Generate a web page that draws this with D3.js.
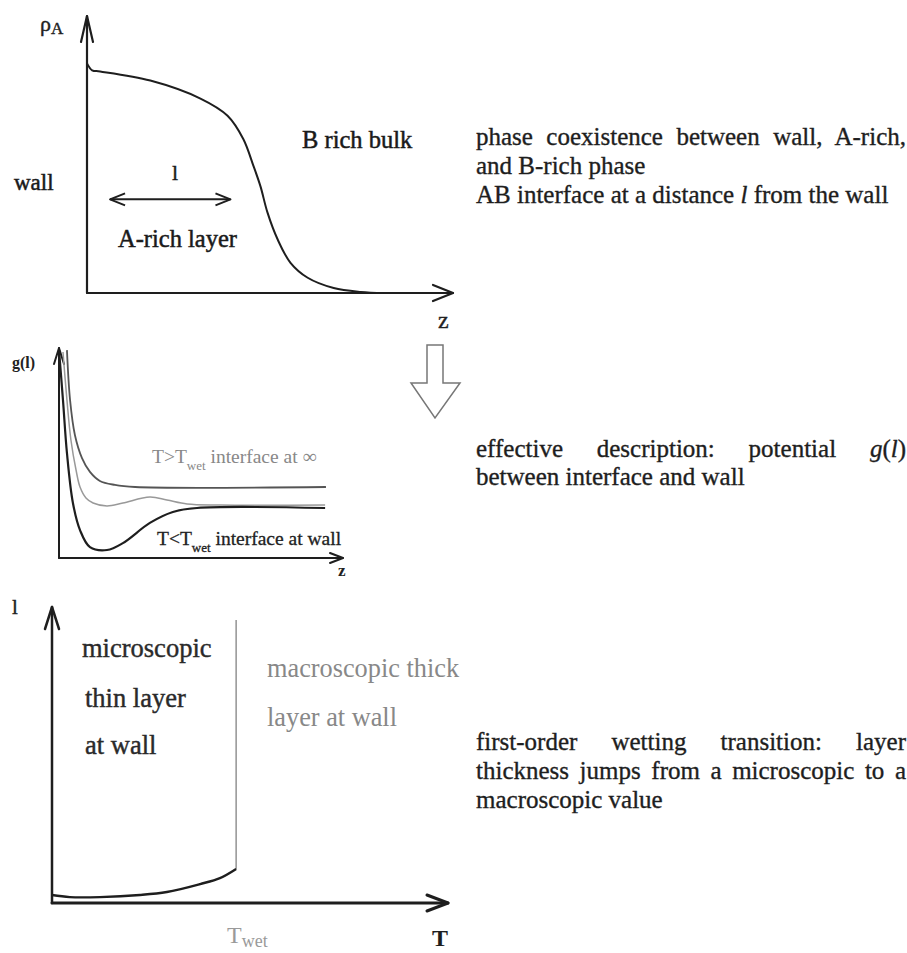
<!DOCTYPE html>
<html><head><meta charset="utf-8">
<script src="https://cdn.jsdelivr.net/npm/d3@7"></script>
<style>body{margin:0;background:#fff}svg{display:block}</style>
</head><body><svg id="c" width="907" height="953"></svg>
<script>
// ---------- DATA ----------
// Panel 1: density profile rho_A(z)
const profileZ   = [0, 0.14, 0.36, 1.73, 3.10, 3.84, 4.27, 4.55, 4.74, 4.93, 5.21, 5.56, 6.03, 6.74, 7.48, 8.11];
const profileRho = [8.29, 8.04, 8.00, 7.67, 7.02, 6.40, 5.56, 4.58, 3.85, 2.91, 1.93, 1.09, 0.55, 0.18, 0.04, 0.00];
// Panel 2: effective potentials g(l)
const gAboveX = [0.28, 0.39, 0.56, 0.81, 1.09, 1.44, 1.97, 2.68, 9.40];
const gAboveY = [9.90, 7.52, 5.86, 4.76, 4.10, 3.67, 3.48, 3.38, 3.38];
const gWetX   = [0.14, 0.28, 0.42, 0.60, 0.74, 0.95, 1.20, 1.69, 2.25, 3.20, 3.80, 4.51, 5.67, 9.37];
const gWetY   = [9.81, 7.52, 5.62, 4.19, 3.38, 2.86, 2.62, 2.48, 2.62, 2.90, 2.76, 2.57, 2.52, 2.52];
const gBelowX = [0.00, 0.14, 0.28, 0.49, 0.74, 1.09, 1.69, 2.25, 3.20, 4.01, 4.86, 9.37];
const gBelowY = [9.90, 7.52, 5.00, 2.62, 1.33, 0.52, 0.38, 0.71, 1.67, 2.19, 2.38, 2.38];
// Panel 3: layer thickness l(T)
const thickT = [0, 0.45, 1.21, 2.22, 2.90, 3.74, 4.24, 4.65];
const thickL = [0.27, 0.20, 0.20, 0.27, 0.37, 0.64, 0.84, 1.15];
const Twet = 4.65, jumpTop = 9.56;
// Text
const topText = ["phase coexistence between wall, A-rich,", "and B-rich phase", "AB interface at a distance "];
const midText = ["effective description: potential ", "between interface and wall"];
const botText = ["first-order wetting transition: layer", "thickness jumps from a microscopic to a", "macroscopic value"];

// ---------- DRAW ----------
const svg = d3.select("#c");
svg.append("rect").attr("width",907).attr("height",953).attr("fill","#fff");
const SERIF = "'Liberation Serif','Times New Roman',serif";
const zip = (a,b)=>a.map((v,i)=>[v,b[i]]);
const smooth = d3.curveCatmullRom.alpha(0.5);

function axes(x, y, o){
  const g = svg.append("g").attr("stroke", "#1e1e1e").attr("fill","none").attr("stroke-linecap","round").attr("stroke-linejoin","round");
  const x0 = x(0), y0 = y(0), xe = x(10), ye = y(10);
  g.append("path").attr("stroke-width", o.wy).attr("d", `M${x0},${y0}V${ye}`);
  g.append("path").attr("stroke-width", o.wx).attr("d", `M${x0},${y0}H${xe}`);
  g.append("path").attr("stroke-width", o.wy).attr("d", `M${x0-o.vw},${ye+o.vl}L${x0},${ye}L${x0+o.vw},${ye+o.vl}`);
  g.append("path").attr("stroke-width", o.wx).attr("d", `M${xe-o.hl},${y0-o.hw}L${xe},${y0}L${xe-o.hl},${y0+o.hw}`);
}
function label(x, y, txt, size, fill, opts={}){
  const t = svg.append("text").attr("x",x).attr("y",y).attr("font-family",SERIF)
    .attr("font-size",size).attr("fill",fill).text(txt);
  if (opts.weight) t.attr("font-weight",opts.weight);
  if (opts.style) t.attr("font-style",opts.style);
  if (opts.heavy) t.attr("stroke",fill).attr("stroke-width",opts.heavy);
  return t;
}

// Panel 1
const x1 = d3.scaleLinear().domain([0,10]).range([87,453]);
const y1 = d3.scaleLinear().domain([0,10]).range([293,16]);
axes(x1, y1, {wx:2.2, wy:2.2, vw:6, vl:26, hl:20, hw:8});
svg.append("path").datum(zip(profileZ, profileRho))
  .attr("fill","none").attr("stroke","#1e1e1e").attr("stroke-width",2)
  .attr("d", d3.line().x(d=>x1(d[0])).y(d=>y1(d[1])).curve(smooth));
// rho_A label
const rl = label(40, 31, "ρ", 22, "#222", {heavy:0.4});
rl.append("tspan").attr("font-size",17).attr("dy",3).text("A");
label(438, 328, "z", 24, "#222", {heavy:0.4});
label(14, 190, "wall", 23, "#1a1a1a", {heavy:0.5});
label(302, 148, "B rich bulk", 24.5, "#1a1a1a", {heavy:0.5});
label(118, 247, "A-rich layer", 24.5, "#1a1a1a", {heavy:0.5});
label(172, 180, "l", 22, "#1a1a1a", {heavy:0.4});
// double arrow for layer thickness l
{
  const ax0 = x1(0.63), ax1 = x1(3.92), ay = y1(3.38);
  const g = svg.append("g").attr("stroke","#1e1e1e").attr("stroke-width",2).attr("fill","none").attr("stroke-linejoin","round");
  g.append("path").attr("d",`M${ax0},${ay}H${ax1}`);
  g.append("path").attr("d",`M${ax0+15},${ay-6}L${ax0},${ay}L${ax0+15},${ay+6}`);
  g.append("path").attr("d",`M${ax1-15},${ay-6}L${ax1},${ay}L${ax1-15},${ay+6}`);
}

// Panel 2
const x2 = d3.scaleLinear().domain([0,10]).range([59,343]);
const y2 = d3.scaleLinear().domain([0,10]).range([558,348]);
axes(x2, y2, {wx:2, wy:2, vw:5, vl:16, hl:13, hw:5});
const line2 = d3.line().x(d=>x2(d[0])).y(d=>y2(d[1])).curve(smooth);
[[gAboveX,gAboveY,"#555",1.8],[gWetX,gWetY,"#999",1.5],[gBelowX,gBelowY,"#1e1e1e",2.2]].forEach(([a,b,c,w])=>{
  svg.append("path").datum(zip(a,b)).attr("fill","none").attr("stroke",c).attr("stroke-width",w).attr("d",line2);
});
{
  label(12, 368, "g(l)", 16, "#222", {weight:"bold"});
  label(338, 576, "z", 17, "#222", {weight:"bold"});
  const a = label(152, 463, "T>T", 19.5, "#888");
  a.append("tspan").attr("font-size",13).attr("dy",7).text("wet");
  a.append("tspan").attr("dy",-7).text(" interface at ∞");
  const b = label(157, 545, "T<T", 19.5, "#222", {heavy:0.3});
  b.append("tspan").attr("font-size",13).attr("dy",7).text("wet");
  b.append("tspan").attr("dy",-7).text(" interface at wall");
}
// hollow down arrow
svg.append("path").attr("fill","#fff").attr("stroke","#777").attr("stroke-width",1.5).attr("stroke-linejoin","miter")
  .attr("d","M427,345H443V383H460L435,418L411,383H427Z");

// Panel 3
const x3 = d3.scaleLinear().domain([0,10]).range([52,448]);
const y3 = d3.scaleLinear().domain([0,10]).range([903,607]);
axes(x3, y3, {wx:3, wy:2.5, vw:7, vl:22, hl:21, hw:8});
svg.append("line").attr("x1",x3(Twet)).attr("x2",x3(Twet)).attr("y1",y3(1.15)).attr("y2",y3(jumpTop))
  .attr("stroke","#999").attr("stroke-width",1.6);
svg.append("path").datum(zip(thickT, thickL)).attr("fill","none").attr("stroke","#1e1e1e").attr("stroke-width",2.4)
  .attr("d", d3.line().x(d=>x3(d[0])).y(d=>y3(d[1])).curve(smooth));
label(12, 614, "l", 21, "#222", {heavy:0.4});
label(82, 657, "microscopic", 26.5, "#2a2a2a", {heavy:0.4});
label(85, 707, "thin layer", 26.5, "#2a2a2a", {heavy:0.4});
label(85, 754, "at wall", 26.5, "#2a2a2a", {heavy:0.4});
label(267, 677, "macroscopic thick", 26.3, "#888");
label(267, 726, "layer at wall", 26.3, "#888");
{
  const t = label(227, 943, "T", 24, "#9a9a9a");
  t.append("tspan").attr("font-size",18).attr("dy",4).text("wet");
  label(432, 946, "T", 24, "#1e1e1e", {weight:"bold"});
}

// Right-hand descriptions
const LX = 476, RX = 906, FS = 25;
function para(lines, y0, lh, justify, extra){
  lines.forEach((s,i)=>{
    const t = label(LX, y0+i*lh, s, FS, "#1e1e1e", {heavy:0.35});
    if (extra && extra[i]) extra[i](t);
    if (justify[i]) {
      const w = t.node().getComputedTextLength();
      const n = (t.text().match(/ /g)||[]).length;
      if (n>0) t.style("word-spacing", ((RX-LX)-w)/n + "px");
    }
  });
}
para(topText, 145, 29, [true,false,false], {2: t=>{
  t.append("tspan").attr("font-style","italic").text("l");
  t.append("tspan").text(" from the wall");
}});
para(midText, 457, 28, [true,false], {0: t=>{
  t.append("tspan").attr("font-style","italic").text("g");
  t.append("tspan").text("(");
  t.append("tspan").attr("font-style","italic").text("l");
  t.append("tspan").text(")");
}});
para(botText, 750, 29, [true,true,false]);
</script></body></html>
